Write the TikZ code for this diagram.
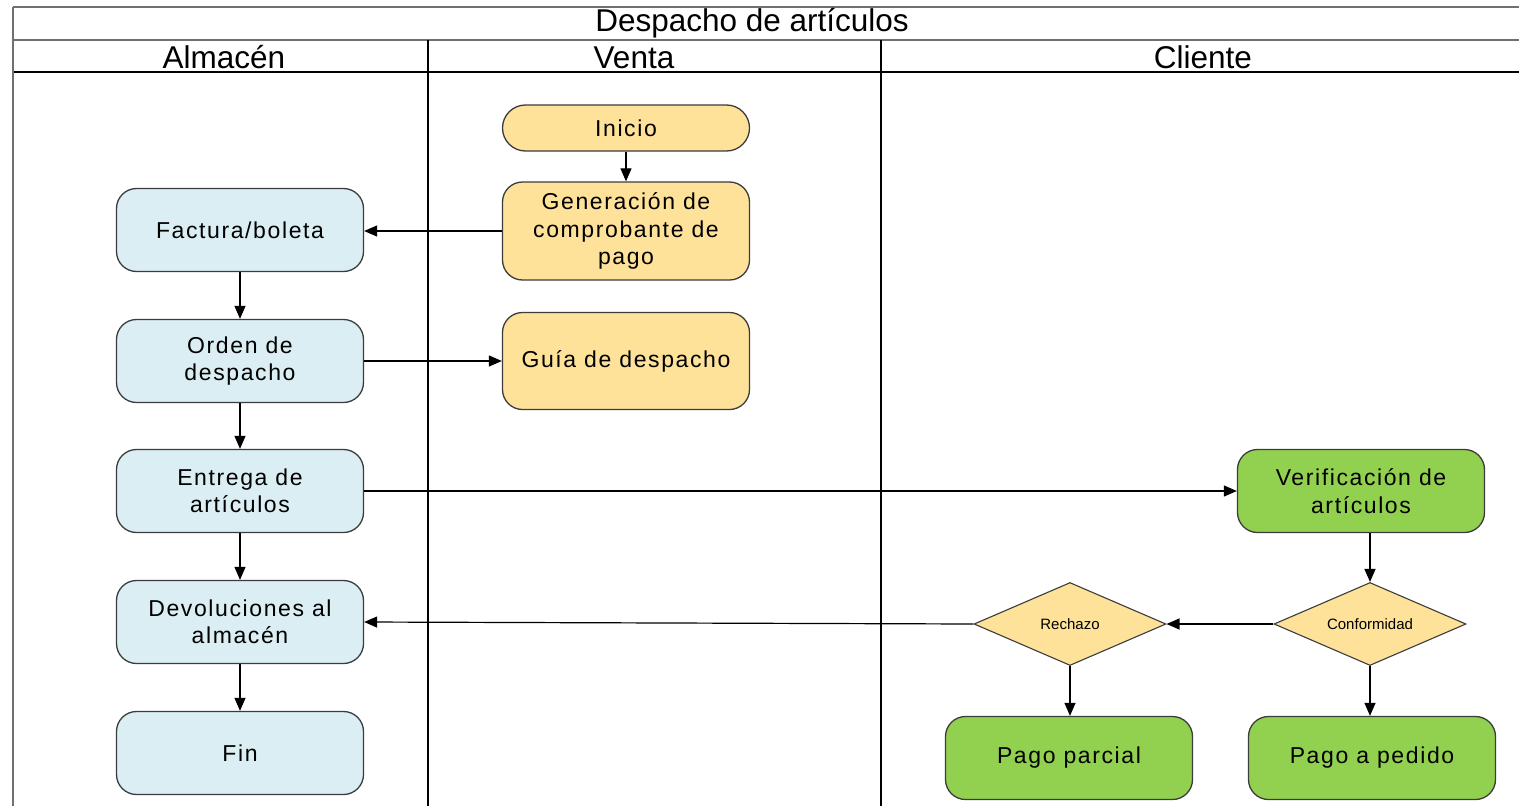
\documentclass[tikz,border=0pt]{standalone}
\usepackage{fontspec}
\setmainfont{Liberation Sans}
\newfontfamily\boxfont[LetterSpace=7]{Liberation Sans}
\usetikzlibrary{shapes.geometric,arrows.meta}
\definecolor{bluefill}{HTML}{DAEEF3}
\definecolor{yelfill}{HTML}{FEE29A}
\definecolor{grnfill}{HTML}{92D050}
\definecolor{bordc}{HTML}{3C3C3C}
\definecolor{framec}{HTML}{707070}
\tikzset{
  box/.style={draw=bordc, line width=1.3pt, rounded corners=20pt, minimum width=247pt, minimum height=83pt,
    align=center, inner sep=0pt, font=\boxfont\fontsize{23}{27.5}\selectfont},
  bbox/.style={box, fill=bluefill},
  ybox/.style={box, fill=yelfill},
  gbox/.style={box, fill=grnfill},
  dec/.style={draw=bordc, line width=1.1pt, diamond, aspect=2.3, inner sep=0pt, fill=yelfill,
    minimum width=192pt, minimum height=83pt, font=\fontsize{15}{17}\selectfont},
  arr/.style={draw=black, line width=1.2pt, -{Triangle[length=13pt,width=11pt]}},
  lane/.style={line width=1.2pt, draw=black},
  hdr/.style={font=\fontsize{31.5}{33}\selectfont, inner sep=0pt}
}
\begin{document}
\begin{tikzpicture}[x=1pt,y=-1pt]
\useasboundingbox (0,0) rectangle (1519,806);
\fill[white] (0,0) rectangle (1519,806);
% frame and lanes
\draw[framec, line width=2.5pt] (13,7) -- (1519,7);
\draw[framec, line width=2.5pt] (13,40) -- (1519,40);
\draw[lane] (13,72) -- (1519,72);
\draw[framec, line width=2pt] (13,7) -- (13,806);
\draw[lane] (428,40) -- (428,806);
\draw[lane] (881,40) -- (881,806);
% headers
\node[hdr] (title) at (752,23) {Despacho de artículos};
\node[hdr] (halm) at (224,57) {Almacén};
\node[hdr] (hven) at (634,58) {Venta};
\node[hdr] (hcli) at (1203,57) {Cliente};
% nodes
\node[ybox, minimum height=46pt, rounded corners=23pt] (ini) at (626,128) {Inicio};
\node[ybox, minimum height=98pt] (gen) at (626,231) {Generación de\\comprobante de\\pago};
\node[ybox, minimum height=97pt] (guia) at (626,361) {Guía de despacho};
\node[bbox] (fac) at (240,230) {Factura/boleta};
\node[bbox] (ord) at (240,361) {Orden de\\despacho};
\node[bbox] (ent) at (240,491) {Entrega de\\artículos};
\node[bbox] (dev) at (240,622) {Devoluciones al\\almacén};
\node[bbox] (fin) at (240,753) {Fin};
\node[gbox] (ver) at (1361,491) {Verificación de\\artículos};
\node[dec] (conf) at (1370,624) {Conformidad};
\node[dec] (rech) at (1070,624) {Rechazo};
\node[gbox] (ppar) at (1069,758) {Pago parcial};
\node[gbox] (pped) at (1372,758) {Pago a pedido};
% arrows
\draw[arr] (ini) -- (gen);
\draw[arr] (gen.west) -- (fac.east |- gen.west);
\draw[arr] (fac) -- (ord);
\draw[arr] (ord.east) -- (guia.west);
\draw[arr] (ord) -- (ent);
\draw[arr] (ent.east) -- (ver.west);
\draw[arr] (ent) -- (dev);
\draw[arr] (dev) -- (fin);
\draw[arr] (ver.south -| conf.north) -- (conf.north);
\draw[arr] (conf.west) -- (rech.east);
\draw[arr] (rech.west) -- (dev.east);
\draw[arr] (rech.south) -- (rech.south |- ppar.north);
\draw[arr] (conf.south) -- (conf.south |- pped.north);
\end{tikzpicture}
\end{document}
